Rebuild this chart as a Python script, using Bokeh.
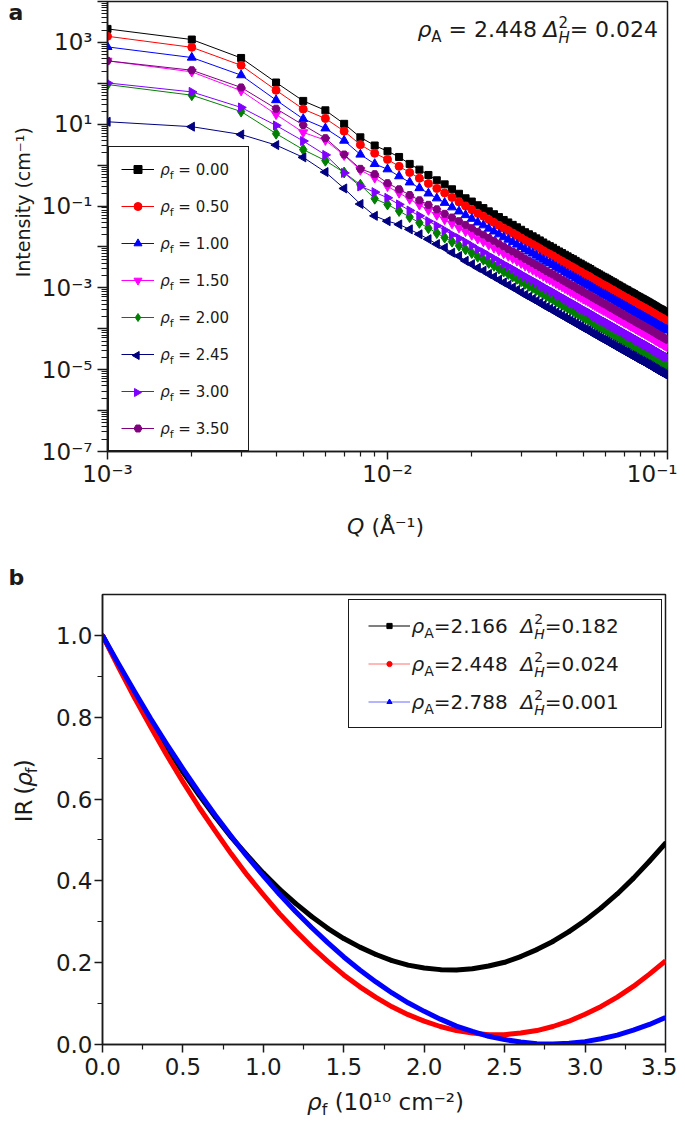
import math
import numpy as np
from bokeh.plotting import figure
from bokeh.models import (Range1d, FixedTicker, CustomJSTickFormatter, PrintfTickFormatter,
                          Label, Legend, LegendItem)
from bokeh.layouts import column, row
from bokeh.embed import file_html
from bokeh.resources import INLINE

FONT = "DejaVu Sans"
INK = "#1a1a1a"

# ============================ DATA ============================
# ---- panel a: Q in units of 1e-3 1/Å, log10 of intensity (cm^-1)
Q_milli = [1, 2, 3, 4, 5, 6, 7, 8, 9, 10, 11, 12, 13, 14, 15, 16, 17, 18, 19, 20,
           21, 22, 23, 24, 25, 26, 27, 28, 29, 30, 31, 32, 33, 34, 35, 36, 37, 38, 39, 40,
           41, 42, 43, 44, 45, 46, 47, 48, 49, 50, 51, 52, 53, 54, 55, 56, 57, 58, 59, 60,
           61, 62, 63, 64, 65, 66, 67, 68, 69, 70, 71, 72, 73, 74, 75, 76, 77, 78, 79, 80,
           81, 82, 83, 84, 85, 86, 87, 88, 89, 90, 91, 92, 93, 94, 95, 96, 97, 98, 99, 100]

logI_rf_000 = [3.33, 3.07, 2.62, 2.02, 1.57, 1.34, 1.01, 0.68, 0.48, 0.34,
               0.20, 0.03, -0.11, -0.24, -0.37, -0.47, -0.59, -0.70, -0.81,
               -0.89, -0.98, -1.05, -1.13, -1.20, -1.27, -1.34, -1.40, -1.46, -1.52,
               -1.58, -1.64, -1.69, -1.74, -1.79, -1.84, -1.89, -1.94, -1.98, -2.02,
               -2.07, -2.11, -2.15, -2.19, -2.23, -2.27, -2.30, -2.34, -2.38, -2.41,
               -2.45, -2.48, -2.51, -2.54, -2.58, -2.61, -2.64, -2.67, -2.70, -2.73,
               -2.75, -2.78, -2.81, -2.84, -2.86, -2.89, -2.92, -2.94, -2.97, -2.99,
               -3.02, -3.04, -3.06, -3.09, -3.11, -3.13, -3.15, -3.18, -3.20, -3.22,
               -3.24, -3.26, -3.28, -3.30, -3.32, -3.34, -3.36, -3.38, -3.40, -3.42,
               -3.44, -3.46, -3.48, -3.50, -3.52, -3.53, -3.55, -3.57, -3.59, -3.60,
               -3.62]
logI_rf_050 = [3.15, 2.88, 2.44, 1.83, 1.37, 1.14, 0.83, 0.50, 0.29, 0.14,
               -0.03, -0.18, -0.32, -0.45, -0.57, -0.68, -0.79, -0.90, -1.00,
               -1.09, -1.18, -1.25, -1.33, -1.40, -1.47, -1.54, -1.60, -1.66, -1.72,
               -1.78, -1.84, -1.89, -1.94, -1.99, -2.04, -2.09, -2.14, -2.18, -2.22,
               -2.27, -2.31, -2.35, -2.39, -2.43, -2.47, -2.50, -2.54, -2.58, -2.61,
               -2.65, -2.68, -2.71, -2.74, -2.78, -2.81, -2.84, -2.87, -2.90, -2.93,
               -2.95, -2.98, -3.01, -3.04, -3.06, -3.09, -3.12, -3.14, -3.17, -3.19,
               -3.22, -3.24, -3.26, -3.29, -3.31, -3.33, -3.35, -3.38, -3.40, -3.42,
               -3.44, -3.46, -3.48, -3.50, -3.52, -3.54, -3.56, -3.58, -3.60, -3.62,
               -3.64, -3.66, -3.68, -3.70, -3.72, -3.73, -3.75, -3.77, -3.79, -3.80,
               -3.82]
logI_rf_100 = [2.89, 2.63, 2.20, 1.59, 1.13, 0.90, 0.60, 0.26, 0.03, -0.10,
               -0.27, -0.42, -0.56, -0.69, -0.81, -0.92, -1.03, -1.13, -1.22,
               -1.31, -1.40, -1.47, -1.55, -1.62, -1.69, -1.76, -1.82, -1.88, -1.94,
               -2.00, -2.06, -2.11, -2.16, -2.21, -2.26, -2.31, -2.36, -2.40, -2.44,
               -2.49, -2.53, -2.57, -2.61, -2.65, -2.69, -2.72, -2.76, -2.80, -2.83,
               -2.87, -2.90, -2.93, -2.96, -3.00, -3.03, -3.06, -3.09, -3.12, -3.15,
               -3.17, -3.20, -3.23, -3.26, -3.28, -3.31, -3.34, -3.36, -3.39, -3.41,
               -3.44, -3.46, -3.48, -3.51, -3.53, -3.55, -3.57, -3.60, -3.62, -3.64,
               -3.66, -3.68, -3.70, -3.72, -3.74, -3.76, -3.78, -3.80, -3.82, -3.84,
               -3.86, -3.88, -3.90, -3.92, -3.94, -3.95, -3.97, -3.99, -4.01, -4.02,
               -4.04]
logI_rf_150 = [2.55, 2.28, 1.82, 1.24, 0.80, 0.61, 0.24, -0.12, -0.31, -0.52,
               -0.68, -0.83, -0.97, -1.10, -1.22, -1.33, -1.43, -1.53, -1.62,
               -1.71, -1.80, -1.87, -1.95, -2.02, -2.09, -2.16, -2.22, -2.28, -2.34,
               -2.40, -2.46, -2.51, -2.56, -2.61, -2.66, -2.71, -2.76, -2.80, -2.84,
               -2.89, -2.93, -2.97, -3.01, -3.05, -3.09, -3.12, -3.16, -3.20, -3.23,
               -3.27, -3.30, -3.33, -3.36, -3.40, -3.43, -3.46, -3.49, -3.52, -3.55,
               -3.57, -3.60, -3.63, -3.66, -3.68, -3.71, -3.74, -3.76, -3.79, -3.81,
               -3.84, -3.86, -3.88, -3.91, -3.93, -3.95, -3.97, -4.00, -4.02, -4.04,
               -4.06, -4.08, -4.10, -4.12, -4.14, -4.16, -4.18, -4.20, -4.22, -4.24,
               -4.26, -4.28, -4.30, -4.32, -4.34, -4.35, -4.37, -4.39, -4.41, -4.42,
               -4.44]
logI_rf_200 = [1.97, 1.71, 1.31, 0.77, 0.38, 0.11, -0.18, -0.48, -0.82, -0.96,
               -1.12, -1.27, -1.41, -1.54, -1.66, -1.77, -1.87, -1.97, -2.06,
               -2.15, -2.24, -2.31, -2.39, -2.46, -2.53, -2.60, -2.66, -2.72, -2.78,
               -2.84, -2.90, -2.95, -3.00, -3.05, -3.10, -3.15, -3.20, -3.24, -3.28,
               -3.33, -3.37, -3.41, -3.45, -3.49, -3.53, -3.56, -3.60, -3.64, -3.67,
               -3.71, -3.74, -3.77, -3.80, -3.84, -3.87, -3.90, -3.93, -3.96, -3.99,
               -4.01, -4.04, -4.07, -4.10, -4.12, -4.15, -4.18, -4.20, -4.23, -4.25,
               -4.28, -4.30, -4.32, -4.35, -4.37, -4.39, -4.41, -4.44, -4.46, -4.48,
               -4.50, -4.52, -4.54, -4.56, -4.58, -4.60, -4.62, -4.64, -4.66, -4.68,
               -4.70, -4.72, -4.74, -4.76, -4.78, -4.79, -4.81, -4.83, -4.85, -4.86,
               -4.88]
logI_rf_245 = [1.06, 0.94, 0.75, 0.49, 0.19, -0.17, -0.57, -0.95, -1.24, -1.37,
               -1.45, -1.57, -1.69, -1.81, -1.93, -2.02, -2.14, -2.22, -2.34,
               -2.42, -2.51, -2.58, -2.66, -2.73, -2.80, -2.87, -2.93, -2.99, -3.05,
               -3.11, -3.17, -3.22, -3.27, -3.32, -3.37, -3.42, -3.47, -3.51, -3.55,
               -3.60, -3.64, -3.68, -3.72, -3.76, -3.80, -3.83, -3.87, -3.91, -3.94,
               -3.98, -4.01, -4.04, -4.07, -4.11, -4.14, -4.17, -4.20, -4.23, -4.26,
               -4.28, -4.31, -4.34, -4.37, -4.39, -4.42, -4.45, -4.47, -4.50, -4.52,
               -4.55, -4.57, -4.59, -4.62, -4.64, -4.66, -4.68, -4.71, -4.73, -4.75,
               -4.77, -4.79, -4.81, -4.83, -4.85, -4.87, -4.89, -4.91, -4.93, -4.95,
               -4.97, -4.99, -5.01, -5.03, -5.05, -5.06, -5.08, -5.10, -5.12, -5.13,
               -5.15]
logI_rf_300 = [2.01, 1.79, 1.41, 0.97, 0.59, 0.25, -0.19, -0.52, -0.66, -0.80,
               -0.96, -1.11, -1.24, -1.37, -1.48, -1.59, -1.70, -1.79, -1.88,
               -1.97, -2.06, -2.13, -2.21, -2.28, -2.35, -2.42, -2.48, -2.54, -2.60,
               -2.66, -2.72, -2.77, -2.82, -2.87, -2.92, -2.97, -3.02, -3.06, -3.10,
               -3.15, -3.19, -3.23, -3.27, -3.31, -3.35, -3.38, -3.42, -3.46, -3.49,
               -3.53, -3.56, -3.59, -3.62, -3.66, -3.69, -3.72, -3.75, -3.78, -3.81,
               -3.83, -3.86, -3.89, -3.92, -3.94, -3.97, -4.00, -4.02, -4.05, -4.07,
               -4.10, -4.12, -4.14, -4.17, -4.19, -4.21, -4.23, -4.26, -4.28, -4.30,
               -4.32, -4.34, -4.36, -4.38, -4.40, -4.42, -4.44, -4.46, -4.48, -4.50,
               -4.52, -4.54, -4.56, -4.58, -4.60, -4.61, -4.63, -4.65, -4.67, -4.68,
               -4.70]
logI_rf_350 = [2.55, 2.32, 1.90, 1.38, 0.98, 0.66, 0.26, -0.09, -0.22, -0.44,
               -0.59, -0.73, -0.86, -0.97, -1.08, -1.19, -1.28, -1.37, -1.46,
               -1.54, -1.63, -1.70, -1.78, -1.85, -1.92, -1.99, -2.05, -2.11, -2.17,
               -2.23, -2.29, -2.34, -2.39, -2.44, -2.49, -2.54, -2.59, -2.63, -2.67,
               -2.72, -2.76, -2.80, -2.84, -2.88, -2.92, -2.95, -2.99, -3.03, -3.06,
               -3.10, -3.13, -3.16, -3.19, -3.23, -3.26, -3.29, -3.32, -3.35, -3.38,
               -3.40, -3.43, -3.46, -3.49, -3.51, -3.54, -3.57, -3.59, -3.62, -3.64,
               -3.67, -3.69, -3.71, -3.74, -3.76, -3.78, -3.80, -3.83, -3.85, -3.87,
               -3.89, -3.91, -3.93, -3.95, -3.97, -3.99, -4.01, -4.03, -4.05, -4.07,
               -4.09, -4.11, -4.13, -4.15, -4.17, -4.18, -4.20, -4.22, -4.24, -4.25,
               -4.27]
rho_f_labels = ["0.00", "0.50", "1.00", "1.50", "2.00", "2.45", "3.00", "3.50"]
annot_rhoA = "2.448"
annot_dH2 = "0.024"

# ---- panel b: IR(rho_f)
rho_f = [0.0, 0.1, 0.2, 0.3, 0.4, 0.5, 0.6, 0.7, 0.8, 0.9, 1.0, 1.1, 1.2, 1.3, 1.4, 1.5, 1.6, 1.7,
         1.8, 1.9, 2.0, 2.1, 2.2, 2.3, 2.4, 2.5, 2.6, 2.7, 2.8, 2.9, 3.0, 3.1, 3.2, 3.3, 3.4, 3.5]
IR_rhoA_2166 = [1.000, 0.926, 0.856, 0.789, 0.726, 0.666, 0.610, 0.557, 0.507, 0.462, 0.419, 0.380,
                0.345, 0.313, 0.284, 0.259, 0.238, 0.220, 0.205, 0.194, 0.187, 0.183, 0.182, 0.185,
                0.192, 0.201, 0.215, 0.232, 0.252, 0.276, 0.303, 0.334, 0.368, 0.406, 0.448, 0.492]
IR_rhoA_2448 = [1.000, 0.922, 0.847, 0.776, 0.707, 0.642, 0.580, 0.522, 0.466, 0.414, 0.366, 0.320,
                0.278, 0.239, 0.203, 0.170, 0.141, 0.115, 0.092, 0.073, 0.057, 0.044, 0.034, 0.028,
                0.024, 0.024, 0.028, 0.034, 0.044, 0.057, 0.074, 0.093, 0.116, 0.142, 0.172, 0.204]
IR_rhoA_2788 = [1.000, 0.930, 0.862, 0.796, 0.734, 0.674, 0.616, 0.561, 0.509, 0.459, 0.412, 0.367,
                0.325, 0.286, 0.249, 0.214, 0.182, 0.153, 0.126, 0.102, 0.081, 0.062, 0.045, 0.032,
                0.020, 0.012, 0.006, 0.002, 0.001, 0.003, 0.007, 0.014, 0.023, 0.035, 0.049, 0.066]
rhoA_labels = ["2.166", "2.448", "2.788"]
dH2_labels = ["0.182", "0.024", "0.001"]

# ============================ STYLE / LAYOUT ============================
colors_a = ["#000000", "#FF0000", "#0000FF", "#FF00FF", "#008000", "#000080", "#8000FF", "#800080"]
markers_a = [("square", 7, 0.0), ("circle", 8, 0.0), ("triangle", 9, 0.0), ("inverted_triangle", 9, 0.0),
             ("diamond", 11, 0.0), ("triangle", 9, math.pi / 2), ("triangle", 9, -math.pi / 2), ("hex", 8, 0.0)]
colors_b = ["#000000", "#FF0000", "#0000FF"]
legend_line_b = ["#000000", "#FF7070", "#6C6CFF"]
markers_b = ["square", "circle", "triangle"]

W = 677
# page-pixel geometry
ROW1_H, LAB1_H, ROW2_H, LAB2_H = 501, 91, 492, 42
ROW2_Y = ROW1_H + LAB1_H            # 592
LAB2_Y = ROW2_Y + ROW2_H            # 1084
A_LW, B_LW = 38, 48                 # width of the left text strips
A_L, A_R, A_T, A_B = 104, 667, 1, 451
A_Y0, A_Y1 = -7.0, 4.0
B_L, B_R, B_T, B_B = 102, 665, 594, 1044
BASE_K = 0.42                       # baseline correction (fraction of font size)


def fx_a(px):
    return 10 ** (-3 + 2.0 * (px - A_L) / (A_R - A_L))


def fy_a(py):
    return 10 ** (A_Y0 + (A_B - py) / (A_B - A_T) * (A_Y1 - A_Y0))


def fx_b(px):
    return 3.5 * (px - B_L) / (B_R - B_L)


def fy_b(py):
    return 1.1 * (B_B - py) / (B_B - B_T)


CW = {"0": .636, "1": .636, "2": .636, "3": .636, "4": .636, "5": .636, "6": .636, "7": .636,
      "8": .636, "9": .636, ".": .318, " ": .318, "=": .838, "A": .684, "H": .752, "f": .352,
      "ρ": .635, "Δ": .684, "(": .39, ")": .39, "Q": .787, "Å": .684, "⁻": .524, "¹": .401,
      "²": .401, "⁰": .401, "c": .55, "m": .974, "I": .295, "R": .695, "n": .634, "t": .392,
      "e": .615, "s": .521, "i": .278, "y": .592, "a": .613, "b": .635}


def tw(s, px):
    return sum(CW.get(ch, .6) for ch in s) * px


def rich(p, fx, fy, x, y, pieces, anchor="left", rotate=False, level="overlay"):
    advs = [tw(t, s) if a is None else a for (t, s, st, sh, a) in pieces]
    total = sum(advs)
    pen = -{"left": 0.0, "center": total / 2, "right": total}[anchor]
    for (t, s, st, sh, a), d in zip(pieces, advs):
        if t:
            corr = BASE_K * s
            if rotate:
                lx, ly, ang = fx(x + sh - corr), fy(y - pen), math.pi / 2
            else:
                lx, ly, ang = fx(x + pen), fy(y + sh - corr), 0.0
            p.add_layout(Label(x=lx, y=ly, text=t, angle=ang, angle_units="rad", text_font=FONT,
                               text_font_size=f"{int(s)}px", text_font_style=st, text_color=INK,
                               text_align="left", text_baseline="alphabetic", level=level))
        pen += d


def text_fig(x0, y0, w, h):
    f = figure(width=w, height=h, x_range=Range1d(0, w), y_range=Range1d(0, h),
               x_axis_location=None, y_axis_location=None, min_border=0,
               output_backend="svg", toolbar_location=None)
    f.grid.visible = False
    f.outline_line_color = None
    f.background_fill_color = "white"
    f.border_fill_color = "white"
    return f, (lambda px: px - x0), (lambda py: y0 + h - py)


def style(p):
    p.grid.visible = False
    p.outline_line_color = INK
    p.outline_line_width = 1.5
    p.outline_line_alpha = 1.0
    p.background_fill_color = "white"
    p.border_fill_color = "white"
    for ax in (p.xaxis[0], p.yaxis[0]):
        ax.axis_line_color = INK
        ax.axis_line_width = 1.5
        ax.major_tick_line_color = INK
        ax.major_tick_line_width = 1.5
        ax.minor_tick_line_color = INK
        ax.minor_tick_line_width = 1.2
        ax.major_tick_in = 0
        ax.minor_tick_in = 0
        ax.major_label_text_font = FONT
        ax.major_label_text_font_size = "23px"
        ax.major_label_text_color = INK


SUP_JS = r"""
const m = {"-": "\u207b", "0": "\u2070", "1": "\u00b9", "2": "\u00b2", "3": "\u00b3", "4": "\u2074",
           "5": "\u2075", "6": "\u2076", "7": "\u2077", "8": "\u2078", "9": "\u2079"};
const e = Math.round(Math.log10(tick));
if (ONLY_ODD && Math.abs(e) % 2 == 0) { return ""; }
let s = "";
for (const c of String(e)) { s += m[c]; }
return "10" + s;
"""

# ============================ PANEL A ============================
p1 = figure(width=W - A_LW, height=ROW1_H, x_axis_type="log", y_axis_type="log",
            x_range=Range1d(1e-3, 1e-1), y_range=Range1d(10 ** A_Y0, 10 ** A_Y1),
            min_border_left=A_L - A_LW, min_border_right=W - A_R,
            min_border_top=A_T, min_border_bottom=ROW1_H - A_B,
            output_backend="svg", toolbar_location=None)
style(p1)
p1.xaxis.ticker = FixedTicker(ticks=[1e-3, 1e-2, 1e-1],
                              minor_ticks=[m * 10.0 ** e for e in (-3, -2) for m in range(2, 10)])
p1.yaxis.ticker = FixedTicker(ticks=[10.0 ** e for e in range(-7, 5)],
                              minor_ticks=[m * 10.0 ** e for e in range(-7, 4) for m in range(2, 10)])
p1.xaxis.formatter = CustomJSTickFormatter(code=SUP_JS.replace("ONLY_ODD", "false"))
p1.yaxis.formatter = CustomJSTickFormatter(code=SUP_JS.replace("ONLY_ODD", "true"))
p1.xaxis.major_tick_out = 8
p1.xaxis.minor_tick_out = 5
p1.xaxis.major_label_standoff = 1
p1.yaxis.major_tick_out = 10
p1.yaxis.minor_tick_out = 6
p1.yaxis.major_label_standoff = 5

Q = np.array(Q_milli) * 1e-3
series_a = [logI_rf_000, logI_rf_050, logI_rf_100, logI_rf_150,
            logI_rf_200, logI_rf_245, logI_rf_300, logI_rf_350]
items_a = []
for logI, col, (mk, sz, ang) in zip(series_a, colors_a, markers_a):
    I = np.power(10.0, np.array(logI))
    rl = p1.line(Q, I, line_color=col, line_width=1)
    rm = p1.scatter(Q, I, marker=mk, size=sz, angle=ang, fill_color=col, line_color=col)
    items_a.append(LegendItem(label=" ", renderers=[rl] if ang else [rl, rm]))

PA, SA, HA, GWA = 12, 17, 20, 33
leg_a = Legend(items=items_a, location=(1, 0), padding=PA, spacing=SA, label_height=HA,
               glyph_height=HA, glyph_width=GWA, label_standoff=6, label_width=76, margin=0,
               border_line_color=INK, border_line_width=1.5, border_line_alpha=1.0,
               background_fill_alpha=0.0,
               label_text_font=FONT, label_text_font_size="8px")
p1.add_layout(leg_a)
leg_top_a = A_B - (8 * HA + 7 * SA + 2 * PA)
glyph_cx_a = A_L + 1 + PA + GWA / 2
for i, lbl in enumerate(rho_f_labels):
    cy = leg_top_a + PA + HA / 2 + i * (HA + SA)
    mk, sz, ang = markers_a[i]
    if ang:  # rotated triangles: legend glyphs do not rotate, so draw the marker over the legend
        p1.scatter([fx_a(glyph_cx_a)], [fy_a(cy)], marker=mk, size=8, angle=ang,
                   fill_color=colors_a[i], line_color=colors_a[i], level="overlay")
    rich(p1, fx_a, fy_a, 157, cy + 5.5,
         [("ρ", 15, "italic", 0, None), ("f", 11, "normal", 4, None), ("", 15, "normal", 0, 4.8),
          ("= " + lbl, 15, "normal", 0, None)])

# annotation top right
rich(p1, fx_a, fy_a, 657, 38,
     [("ρ", 22, "italic", 0, None), ("A", 15, "normal", 5, None), ("", 22, "normal", 0, 7.0),
      ("= " + annot_rhoA, 22, "normal", 0, None), ("", 22, "normal", 0, 7.0),
      ("Δ", 22, "italic", 0, None), ("H", 15, "italic", 6, 0.0), ("2", 15, "normal", -10, 11.3),
      ("= " + annot_dH2, 22, "normal", 0, None)], anchor="right")

# text strips around panel a
fa_L, fxL, fyL = text_fig(0, 0, A_LW, ROW1_H)
rich(fa_L, fxL, fyL, 30, 232, [("Intensity (cm⁻¹)", 19, "normal", 0, None)],
     anchor="center", rotate=True, level="annotation")
rich(fa_L, fxL, fyL, 8, 21, [("a", 22, "bold", 0, None)], level="annotation")

fa_B, fxB, fyB = text_fig(0, ROW1_H, W, LAB1_H)
rich(fa_B, fxB, fyB, 385, 535,
     [("Q", 22, "italic", 0, None), ("", 22, "normal", 0, 7.0), ("(Å⁻¹)", 22, "normal", 0, None)],
     anchor="center", level="annotation")
rich(fa_B, fxB, fyB, 8, 586, [("b", 22, "bold", 0, None)], level="annotation")

# ============================ PANEL B ============================
p2 = figure(width=W - B_LW, height=ROW2_H, x_range=Range1d(0, 3.5), y_range=Range1d(0, 1.1),
            min_border_left=B_L - B_LW, min_border_right=W - B_R,
            min_border_top=B_T - ROW2_Y, min_border_bottom=LAB2_Y - B_B,
            output_backend="svg", toolbar_location=None)
style(p2)
p2.xaxis.ticker = FixedTicker(ticks=[0, 0.5, 1.0, 1.5, 2.0, 2.5, 3.0, 3.5],
                              minor_ticks=[0.25, 0.75, 1.25, 1.75, 2.25, 2.75, 3.25])
p2.yaxis.ticker = FixedTicker(ticks=[0, 0.2, 0.4, 0.6, 0.8, 1.0],
                              minor_ticks=[0.1, 0.3, 0.5, 0.7, 0.9])
p2.xaxis.formatter = PrintfTickFormatter(format="%.1f")
p2.yaxis.formatter = PrintfTickFormatter(format="%.1f")
p2.xaxis.major_tick_out = 8
p2.xaxis.minor_tick_out = 5
p2.xaxis.major_label_standoff = 5
p2.yaxis.major_tick_out = 8
p2.yaxis.minor_tick_out = 5
p2.yaxis.major_label_standoff = 2

series_b = [IR_rhoA_2166, IR_rhoA_2448, IR_rhoA_2788]
items_b = []
for ys, col, lcol, mk in zip(series_b, colors_b, legend_line_b, markers_b):
    rl = p2.line(rho_f, ys, line_color=lcol, line_width=1.2)
    rm = p2.scatter(rho_f, ys, marker=mk, size=3, fill_color=col, line_color=col)
    items_b.append(LegendItem(label=" ", renderers=[rl, rm]))
for ys, col in zip(series_b, colors_b):
    p2.line(rho_f, ys, line_color=col, line_width=5, line_join="round")

PB, GWB = 19, 42
leg_h_b = 3 * 13 + 2 * 25 + 2 * PB
leg_bottom_b = 728
leg_b = Legend(items=items_b, location=(347.5 - B_L, B_B - leg_bottom_b), padding=PB, spacing=25,
               label_height=13, glyph_height=13, glyph_width=GWB, label_standoff=3, label_width=229,
               margin=0, border_line_color=INK, border_line_width=1.5, border_line_alpha=1.0,
               background_fill_alpha=0.0,
               label_text_font=FONT, label_text_font_size="8px")
p2.add_layout(leg_b)
leg_top_b = leg_bottom_b - leg_h_b
for i, (ra, dh) in enumerate(zip(rhoA_labels, dH2_labels)):
    cy = leg_top_b + PB + 6.5 + i * 38
    rich(p2, fx_b, fy_b, 411, cy + 7,
         [("ρ", 20, "italic", 0, None), ("A", 14, "normal", 5, None), ("=" + ra, 20, "normal", 0, None),
          ("", 20, "normal", 0, 12.7), ("Δ", 20, "italic", 0, None), ("H", 14, "italic", 6, 0.0),
          ("2", 14, "normal", -9, 10.5), ("=" + dh, 20, "normal", 0, None)])

fb_L, fxL2, fyL2 = text_fig(0, ROW2_Y, B_LW, ROW2_H)
rich(fb_L, fxL2, fyL2, 33, 807,
     [("IR", 23, "normal", 0, None), ("", 23, "normal", 0, 7.3), ("(", 23, "normal", 0, None),
      ("ρ", 23, "italic", 0, None), ("f", 16, "normal", 5, None), (")", 23, "normal", 0, None)],
     anchor="center", rotate=True, level="annotation")

fb_B, fxB2, fyB2 = text_fig(0, LAB2_Y, W, LAB2_H)
rich(fb_B, fxB2, fyB2, 385, 1111,
     [("ρ", 23, "italic", 0, None), ("f", 16, "normal", 5, None), ("", 23, "normal", 0, 7.3),
      ("(10¹⁰ cm⁻²)", 23, "normal", 0, None)], anchor="center", level="annotation")

layout = column(row(fa_L, p1), fa_B, row(fb_L, p2), fb_B)
open("out.html", "w").write(file_html(layout, INLINE))
